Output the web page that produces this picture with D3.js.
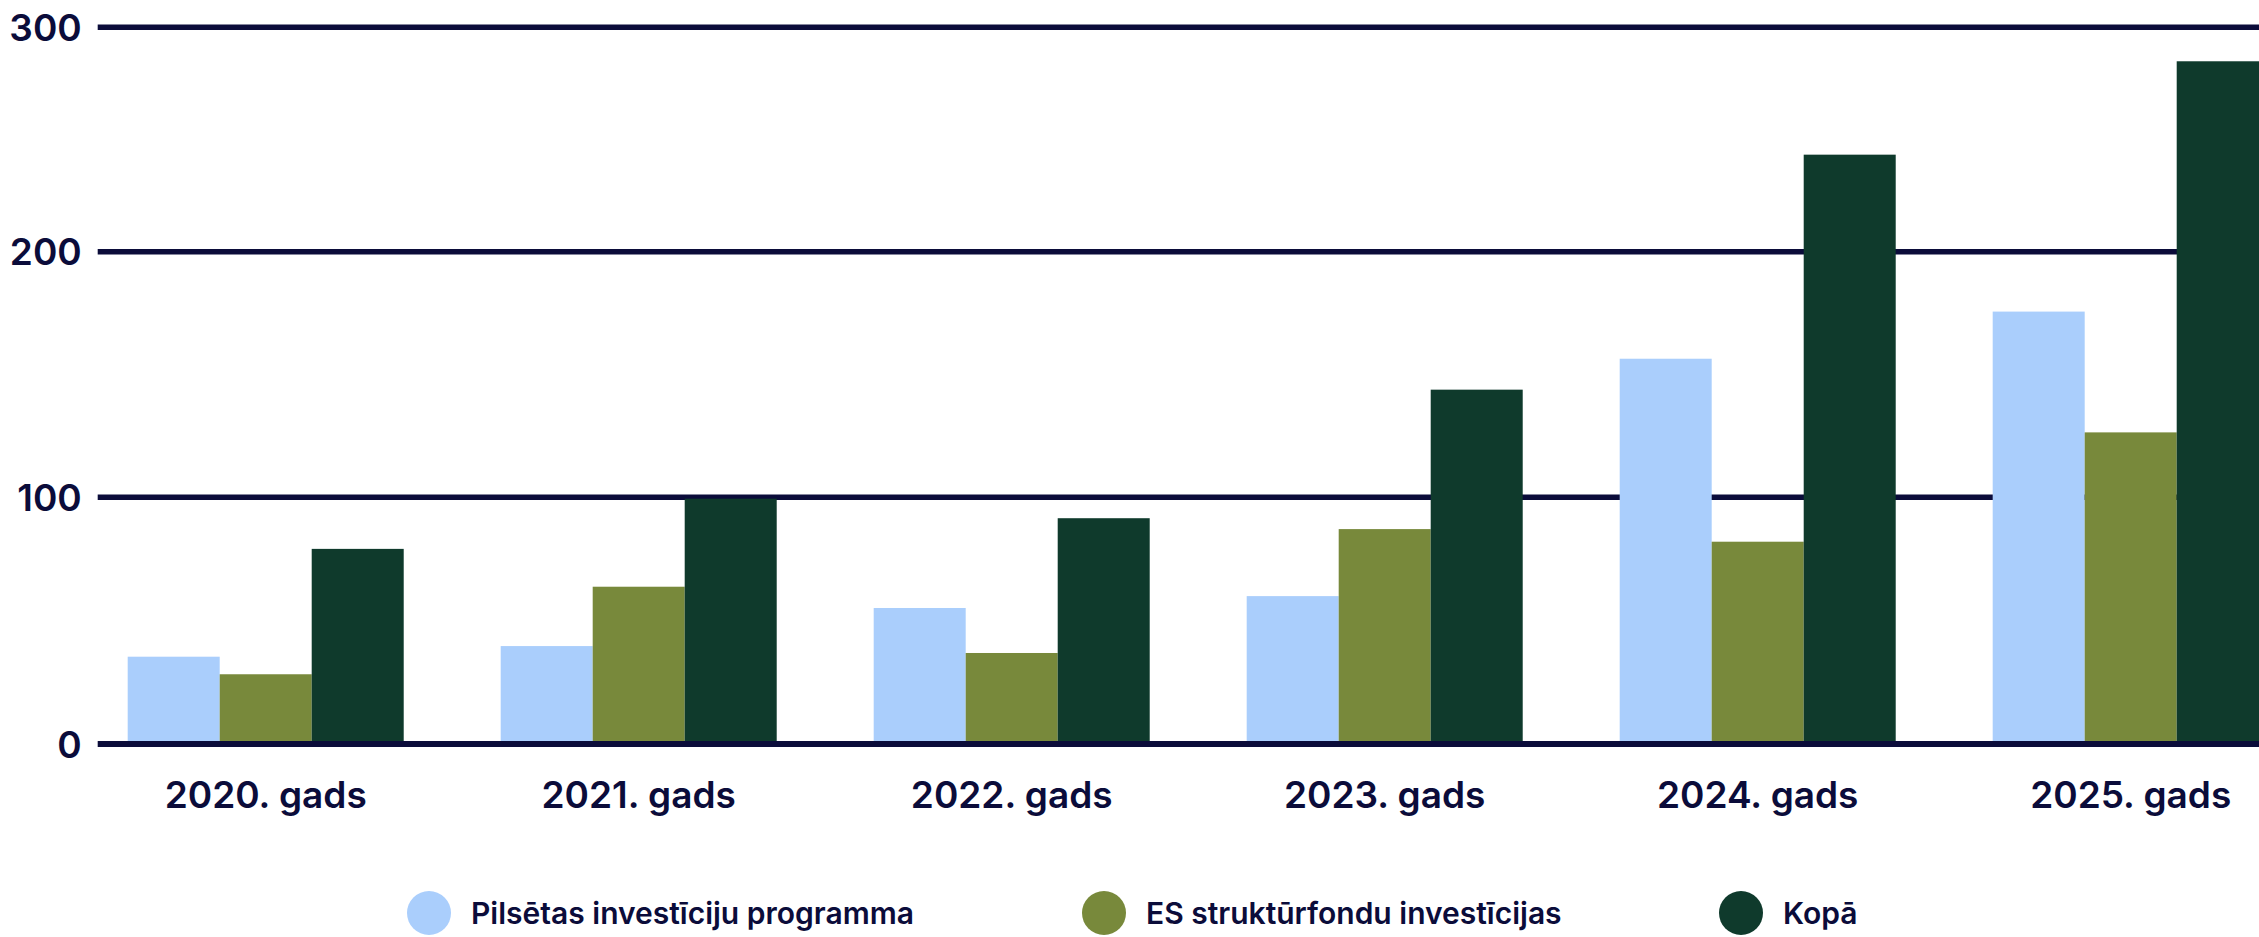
<!DOCTYPE html>
<html>
<head>
<meta charset="utf-8">
<script src="https://cdn.jsdelivr.net/npm/d3@7"></script>
<style>
  html, body { margin: 0; padding: 0; background: #ffffff; }
  svg { display: block; }
  text { font-family: "Inter", "Lato", sans-serif; }
</style>
</head>
<body>
<div id="chart"></div>
<script>
// ---- data ----
const categories = ["2020. gads", "2021. gads", "2022. gads", "2023. gads", "2024. gads", "2025. gads"];
const seriesNames = ["Pilsētas investīciju programma", "ES struktūrfondu investīcijas", "Kopā"];
const pilsetas = [35.3, 39.6, 55.0, 59.8, 156.2, 175.4];
const esFondi  = [28.2, 63.6, 36.8, 86.9, 81.8, 126.2];
const kopa     = [78.9, 99.2, 91.3, 143.6, 243.0, 284.6];
const yTicks = [0, 100, 200, 300];
const seriesColors = ["#aacefc", "#78893b", "#0f3a2c"];

// ---- layout ----
const W = 2259, H = 937;
const navy = "#0b0c3a";
const svg = d3.select("#chart").append("svg").attr("width", W).attr("height", H);

const x = d3.scaleBand().domain(categories).range([79.2, 2317.2]).paddingInner(0.26).paddingOuter(0.13);
const xs = d3.scaleBand().domain(seriesNames).range([0, x.bandwidth()]).padding(0);
// axis rendering scale (gaps between gridlines differ in the original picture)
const y = d3.scaleLinear().domain([0, 100, 200, 300]).range([744, 496.7, 251.2, 26.7]);

const gridX0 = 97.7;

// gridlines + y labels
const yAxis = d3.axisLeft(y).tickValues(yTicks).tickSize(-(W - gridX0 + 20)).tickPadding(16).tickFormat(d3.format("d"));
const gy = svg.append("g").attr("transform", `translate(${gridX0},0)`).call(yAxis);
gy.select(".domain").remove();
gy.selectAll(".tick line").attr("stroke", navy).attr("stroke-width", 5.5)
  .filter(d => d === 0).remove();
gy.selectAll(".tick text").attr("fill", navy).attr("font-size", 37).attr("font-weight", 600)
  .attr("dy", "0.36em").style("font-family", "Inter, Lato, sans-serif");

// bars
const seriesData = [pilsetas, esFondi, kopa];
const groups = svg.append("g").selectAll("g").data(categories).join("g")
  .attr("transform", d => `translate(${x(d)},0)`);
groups.selectAll("rect")
  .data((d, i) => seriesNames.map((s, j) => ({ s, v: seriesData[j][i], c: seriesColors[j] })))
  .join("rect")
  .attr("x", d => xs(d.s))
  .attr("width", xs.bandwidth())
  .attr("y", d => y(d.v))
  .attr("height", d => y(0) - y(d.v))
  .attr("fill", d => d.c);

// zero baseline on top
svg.append("line").attr("x1", gridX0).attr("x2", W + 10)
  .attr("y1", y(0)).attr("y2", y(0)).attr("stroke", navy).attr("stroke-width", 6);

// x labels
const xAxis = d3.axisBottom(x).tickSize(0).tickPadding(0);
const gx = svg.append("g").attr("transform", `translate(0,${y(0)})`).call(xAxis);
gx.select(".domain").remove();
gx.selectAll(".tick text").attr("fill", navy).attr("font-size", 37).attr("font-weight", 600)
  .attr("dy", 0).attr("y", 64).style("font-family", "Inter, Lato, sans-serif");

// legend
const legendX = [429, 1104, 1741];
const lg = svg.append("g").selectAll("g").data(seriesNames).join("g")
  .attr("transform", (d, i) => `translate(${legendX[i]},913)`);
lg.append("circle").attr("r", 22).attr("fill", (d, i) => seriesColors[i]);
lg.append("text").attr("x", 42).attr("y", 11).attr("fill", navy)
  .attr("font-size", 30).attr("font-weight", 600).text(d => d);
</script>
</body>
</html>
